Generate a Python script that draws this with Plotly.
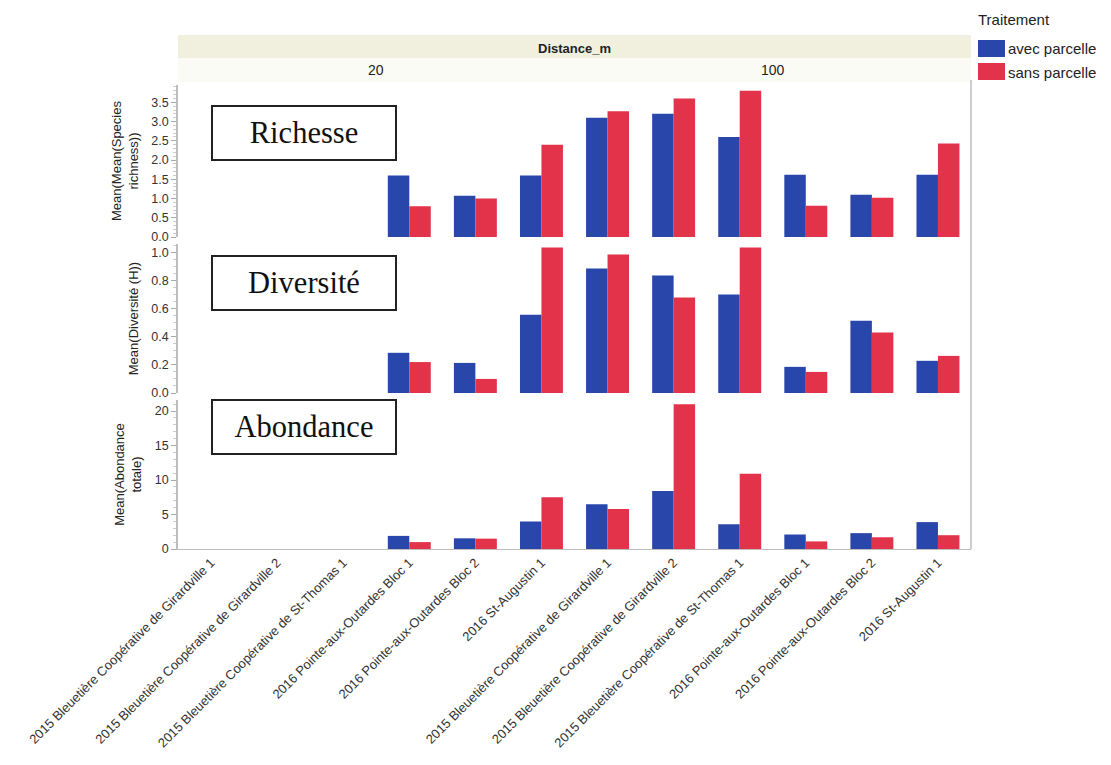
import plotly.graph_objects as go
from plotly.subplots import make_subplots

# ---------------- data ----------------
sites = [
    "2015 Bleuetière Coopérative de Girardville 1",
    "2015 Bleuetière Coopérative de Girardville 2",
    "2015 Bleuetière Coopérative de St-Thomas 1",
    "2016 Pointe-aux-Outardes Bloc 1",
    "2016 Pointe-aux-Outardes Bloc 2",
    "2016 St-Augustin 1",
]
distances = ["20", "100"]
treatments = ["avec parcelle", "sans parcelle"]

# values: first 6 = distance 20, last 6 = distance 100
richesse_avec = [None, None, None, 1.60, 1.07, 1.60, 3.10, 3.20, 2.60, 1.62, 1.10, 1.62]
richesse_sans = [None, None, None, 0.80, 1.00, 2.40, 3.27, 3.60, 3.80, 0.81, 1.02, 2.43]
diversite_avec = [None, None, None, 0.286, 0.214, 0.557, 0.886, 0.836, 0.700, 0.186, 0.514, 0.229]
diversite_sans = [None, None, None, 0.220, 0.100, 1.035, 0.986, 0.680, 1.035, 0.150, 0.430, 0.264]
abondance_avec = [None, None, None, 1.9, 1.55, 4.0, 6.5, 8.4, 3.6, 2.1, 2.3, 3.9]
abondance_sans = [None, None, None, 1.0, 1.50, 7.5, 5.8, 21.0, 10.9, 1.1, 1.7, 2.0]

metrics = [
    ("Richesse", "Mean(Mean(Species<br>richness))", richesse_avec, richesse_sans),
    ("Diversité", "Mean(Diversité (H))", diversite_avec, diversite_sans),
    ("Abondance", "Mean(Abondance<br>totale)", abondance_avec, abondance_sans),
]

BLUE = "#2947ab"
RED = "#e2334b"
colors = [BLUE, RED]

fig = make_subplots(rows=3, cols=2, horizontal_spacing=0, vertical_spacing=0.015)

for r, (label, ytitle, avec, sans) in enumerate(metrics, start=1):
    for c in range(2):
        sl = slice(c * 6, c * 6 + 6)
        for t, vals in enumerate([avec, sans]):
            fig.add_trace(
                go.Bar(
                    x=sites,
                    y=vals[sl],
                    name=treatments[t],
                    marker=dict(color=colors[t], line=dict(width=0)),
                    showlegend=False,
                ),
                row=r, col=c + 1,
            )

# page body has an 8px margin: compensate
OFF = 8
W, H = 1111 - OFF, 765 - OFF
ml, mr, mt, mb = 178 - OFF, 140, 85 - OFF, 216
pw = W - ml - mr
ph = H - mt - mb


def py(p):
    return (H - mb - (p - OFF)) / ph


def px(p):
    return ((p - OFF) - ml) / pw


row_domains = [[py(237), 1.0], [py(393), py(244)], [0.0, py(400)]]
yranges = [[0, 3.95], [0, 1.06], [0, 21.6]]
ydticks = [0.5, 0.2, 5]
yminor = [0.1, 0.05, 1]
yfmt = [".1f", ".1f", "d"]

SANS = "Liberation Sans, Arial, sans-serif"
tickfont = dict(family=SANS, size=12.5, color="#333")

for r in range(3):
    for c in range(2):
        idx = r * 2 + c + 1
        xa = "xaxis" if idx == 1 else f"xaxis{idx}"
        ya = "yaxis" if idx == 1 else f"yaxis{idx}"
        fig.layout[xa].update(
            domain=[0, 0.5] if c == 0 else [0.5, 1.0],
            showgrid=False, zeroline=False,
            showticklabels=(r == 2),
            tickangle=-45,
            tickfont=dict(family=SANS, size=13, color="#333"),
            showline=(r == 2), linecolor="#bdbdbd", linewidth=1,
            ticks="", categoryorder="array", categoryarray=sites,
        )
        fig.layout[ya].update(
            domain=row_domains[r],
            range=yranges[r],
            showgrid=False, zeroline=False,
            showticklabels=(c == 0),
            showline=(c == 0), linecolor="#bdbdbd", linewidth=1.5,
            ticks="outside" if c == 0 else "", ticklen=5, tickcolor="#aaa",
            dtick=ydticks[r], tickformat=yfmt[r],
            tickfont=tickfont,
            minor=dict(dtick=yminor[r], ticks="outside" if c == 0 else "", ticklen=3, tickcolor="#ccc"),
        )
        if c == 0:
            fig.layout[ya].title = dict(text=metrics[r][1], standoff=10,
                                        font=dict(family=SANS, size=13, color="#222"))

fig.update_layout(
    width=W, height=H,
    margin=dict(l=ml, r=mr, t=mt, b=mb),
    barmode="group", bargap=0.35, bargroupgap=0,
    plot_bgcolor="white", paper_bgcolor="white",
    showlegend=False,
)

shapes = []
# header strip
shapes.append(dict(type="rect", xref="paper", yref="paper", x0=0, x1=1, y0=py(58), y1=py(35),
                   fillcolor="#f1f0df", line=dict(width=0), layer="below"))
shapes.append(dict(type="rect", xref="paper", yref="paper", x0=0, x1=1, y0=py(82), y1=py(58),
                   fillcolor="#fbfbf6", line=dict(width=0), layer="below"))
# right border
shapes.append(dict(type="line", xref="paper", yref="paper", x0=1, x1=1, y0=0, y1=py(80),
                   line=dict(color="#bdbdbd", width=1.5)))

annotations = []
annotations.append(dict(text="<b>Distance_m</b>", xref="paper", yref="paper", x=0.5, y=py(48),
                        xanchor="center", yanchor="middle",
                        showarrow=False, font=dict(family=SANS, size=13, color="#222")))
for i, d in enumerate(distances):
    annotations.append(dict(text=d, xref="paper", yref="paper", x=0.25 + 0.5 * i, y=py(70),
                            xanchor="center", yanchor="middle",
                            showarrow=False, font=dict(family=SANS, size=14, color="#222")))

# metric label boxes
box_centers = [133, 283, 427]
for (label, *_), cy in zip(metrics, box_centers):
    annotations.append(dict(text=label, xref="paper", yref="paper", x=px(303.5), y=py(cy),
                            xanchor="center", yanchor="middle", showarrow=False,
                            width=178, height=48, bgcolor="white",
                            bordercolor="#222", borderwidth=2, borderpad=2,
                            font=dict(family="Liberation Serif, Times New Roman, serif", size=30.5, color="#111")))

# manual legend
annotations.append(dict(text="Traitement", xref="paper", yref="paper", x=px(976), y=py(20),
                        xanchor="left", yanchor="middle", showarrow=False,
                        font=dict(family=SANS, size=15, color="#222")))
leg_y = [(40, 57, 48), (63, 80, 72)]
for t, (y0, y1, yc) in enumerate(leg_y):
    shapes.append(dict(type="rect", xref="paper", yref="paper", x0=px(978), x1=px(1005),
                       y0=py(y1), y1=py(y0), fillcolor=colors[t], line=dict(width=0)))
    annotations.append(dict(text=treatments[t], xref="paper", yref="paper", x=px(1006), y=py(yc),
                            xanchor="left", yanchor="middle", showarrow=False,
                            font=dict(family=SANS, size=15, color="#222")))

fig.update_layout(shapes=shapes, annotations=annotations)

fig.write_html("out.html")
